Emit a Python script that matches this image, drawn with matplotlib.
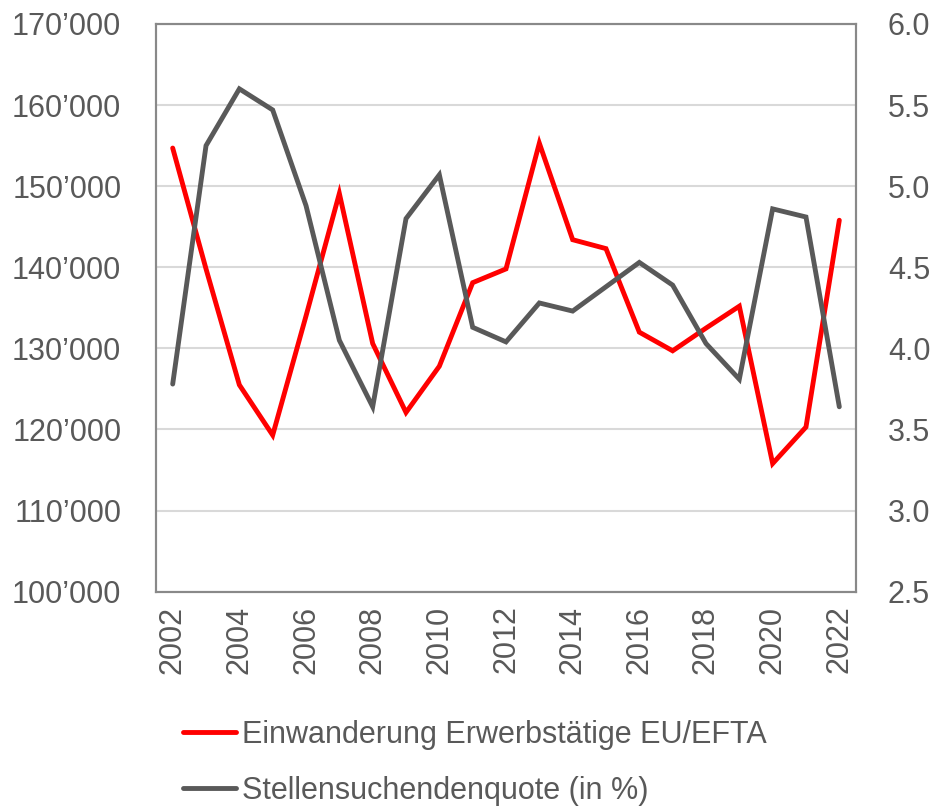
import matplotlib
matplotlib.use("Agg")
import matplotlib.pyplot as plt
from matplotlib.ticker import FuncFormatter

plt.rcParams['font.family'] = ['Liberation Sans Narrow', 'Liberation Sans', 'DejaVu Sans']

years = list(range(2002, 2023))
# Einwanderung Erwerbstätige EU/EFTA (left axis)
immigration = [154700, 139800, 125500, 119300, 134000, 149100, 130600, 122100,
               127800, 138100, 139800, 155300, 143400, 142300, 132000, 129700,
               132500, 135200, 115800, 120300, 145800]
# Stellensuchendenquote in % (right axis)
jobseeker_rate = [3.78, 5.25, 5.60, 5.47, 4.88, 4.05, 3.64, 4.80, 5.07, 4.13,
                  4.04, 4.28, 4.23, 4.38, 4.53, 4.39, 4.03, 3.81, 4.86, 4.81, 3.64]

label_red = "Einwanderung Erwerbstätige EU/EFTA"
label_grey = "Stellensuchendenquote (in %)"

text_col = '#595959'
fs = 22

fig = plt.figure(figsize=(9.36, 8.07), dpi=100)
ax = fig.add_axes([0.1667, 0.2668, 0.7478, 0.7035])
ax2 = ax.twinx()

x = list(range(len(years)))
l1, = ax.plot(x, immigration, color='#ff0000', lw=3.5, solid_capstyle='round',
              solid_joinstyle='miter', label=label_red, zorder=3)
l2, = ax2.plot(x, jobseeker_rate, color='#595959', lw=3.5, solid_capstyle='round',
               solid_joinstyle='miter', label=label_grey, zorder=3)

ax.set_xlim(-0.5, len(years) - 0.5)
ax.set_ylim(100000, 170000)
ax.set_yticks(range(100000, 170001, 10000))
ax.yaxis.set_major_formatter(FuncFormatter(lambda v, p: f"{int(v):,}".replace(",", "\u2019")))
ax2.set_ylim(2.5, 6.0)
ax2.set_yticks([2.5, 3.0, 3.5, 4.0, 4.5, 5.0, 5.5, 6.0])
ax2.yaxis.set_major_formatter(FuncFormatter(lambda v, p: f"{v:.1f}"))

ax.set_xticks(x[::2])
ax.set_xticklabels([str(y) for y in years[::2]], rotation=90)

ax.grid(axis='y', color='#d9d9d9', lw=1.5, zorder=0)
ax.set_axisbelow(True)

for a in (ax, ax2):
    for s in a.spines.values():
        s.set_color('#898989')
        s.set_linewidth(1.5)
    a.tick_params(length=0, labelsize=fs, labelcolor=text_col)
ax.tick_params(axis='y', pad=25)
ax.tick_params(axis='x', pad=10)
ax2.tick_params(axis='y', pad=23)

fig.legend(handles=[l1, l2], loc='upper left', bbox_to_anchor=(0.182, 0.123),
           frameon=False, fontsize=fs, labelcolor=text_col, handlelength=1.75,
           handletextpad=0.2, labelspacing=0.85, borderaxespad=0)

fig.savefig('out.png', dpi=100)
